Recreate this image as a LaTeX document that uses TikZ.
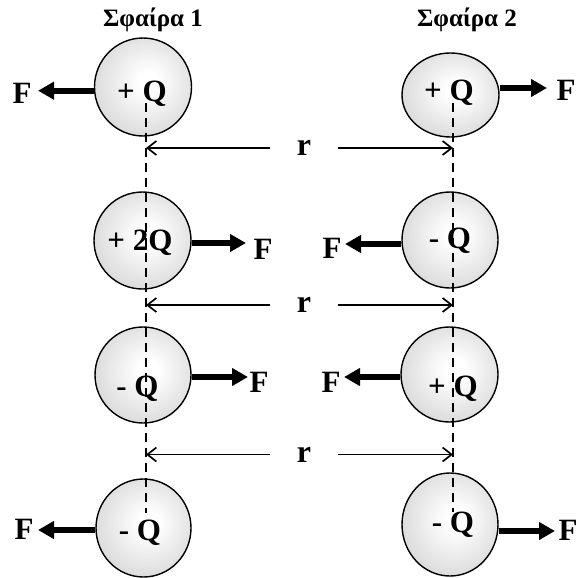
\documentclass[tikz,border=0pt]{standalone}
\usepackage{fontspec}
\setmainfont{Liberation Serif}
\usetikzlibrary{shapes.geometric,arrows.meta}
\definecolor{sphedge}{gray}{0.72}
\definecolor{sphmid}{gray}{0.87}
\pgfdeclareradialshading{sph}{\pgfpoint{3bp}{3bp}}{color(0bp)=(white); color(5bp)=(white); color(26bp)=(sphmid); color(46bp)=(sphedge); color(70bp)=(sphedge)}
\tikzset{
  sphere/.style={ellipse, draw, line width=1.4pt, shading=sph, inner sep=0pt},
  lbl/.style={anchor=base, inner sep=0pt, font=\fontsize{31}{33}\selectfont\bfseries},
  flbl/.style={anchor=base, inner sep=0pt, font=\fontsize{31}{33}\selectfont\bfseries},
  ttl/.style={anchor=base, inner sep=0pt, font=\fontsize{25}{28}\selectfont\bfseries},
  rlbl/.style={inner sep=0pt, minimum width=68pt, minimum height=14pt, font=\fontsize{32}{34}\selectfont\bfseries},
  force/.style={line width=5.8pt, -{Triangle[length=16pt,width=17pt]}},
  dim/.style={line width=1.7pt, -{Straight Barb[length=9pt,width=14pt,line width=1.7pt]}},
  dashline/.style={line width=2.1pt, dash pattern=on 9pt off 6pt}
}
\begin{document}
\begin{tikzpicture}[x=1pt,y=-1pt]
\useasboundingbox (0,0) rectangle (578,578);
% titles
\node[ttl] (t1) at (153,27) {Σφαίρα 1};
\node[ttl] (t2) at (467,27) {Σφαίρα 2};
% spheres
\node[sphere, minimum width=97pt, minimum height=98pt] (L1) at (143,87) {};
\node[sphere, minimum width=97pt, minimum height=97pt] (L2) at (142.5,240.5) {};
\node[sphere, minimum width=96pt, minimum height=96pt] (L3) at (143,375) {};
\node[sphere, minimum width=95pt, minimum height=98pt] (L4) at (143.5,528) {};
\node[sphere, minimum width=97pt, minimum height=84pt] (R1) at (450.5,95) {};
\node[sphere, minimum width=96pt, minimum height=96pt] (R2) at (450,240) {};
\node[sphere, minimum width=97pt, minimum height=95pt] (R3) at (449.5,374.5) {};
\node[sphere, minimum width=96pt, minimum height=103pt] (R4) at (450,524.5) {};
% dashed lines
\coordinate (lt) at (146,103);
\coordinate (lb) at (146,513);
\coordinate (rt) at (453,103);
\coordinate (rb) at (453,512);
\draw[dashline] (lt) -- (lb);
\draw[dashline] (rt) -- (rb);
% charge labels
\node[lbl] (qL1) at (142,101) {+ Q};
\node[lbl] (qL2) at (140,250) {+ 2Q};
\node[lbl] (qL3) at (137.5,396) {- Q};
\node[lbl] (qL4) at (140,540) {- Q};
\node[lbl] (qR1) at (449,100) {+ Q};
\node[lbl] (qR2) at (450,248) {- Q};
\node[lbl] (qR3) at (453,396) {+ Q};
\node[lbl] (qR4) at (453,532) {- Q};
% force labels
\node[flbl] (fL1) at (22,103) {F};
\node[flbl] (fL2) at (263,259) {F};
\node[flbl] (fL3) at (259,392.7) {F};
\node[flbl] (fL4) at (24,539) {F};
\node[flbl] (fR1) at (566,100) {F};
\node[flbl] (fR2) at (332,258) {F};
\node[flbl] (fR3) at (331,392.7) {F};
\node[flbl] (fR4) at (568,540) {F};
% force tips
\coordinate (aL1) at (38,90.7);
\coordinate (aL2) at (246,243);
\coordinate (aL3) at (248,377);
\coordinate (aL4) at (38,530);
\coordinate (aR1) at (547,88);
\coordinate (aR2) at (345,244);
\coordinate (aR3) at (344,377);
\coordinate (aR4) at (555,531);
\draw[force] (L1.west |- aL1) -- (aL1);
\draw[force] (L2.east |- aL2) -- (aL2);
\draw[force] (L3.east |- aL3) -- (aL3);
\draw[force] (L4.west |- aL4) -- (aL4);
\draw[force] (R1.east |- aR1) -- (aR1);
\draw[force] (R2.west |- aR2) -- (aR2);
\draw[force] (R3.west |- aR3) -- (aR3);
\draw[force] (R4.east |- aR4) -- (aR4);
% distance arrows
\node[rlbl] (r1) at (304,148) {r};
\node[rlbl] (r2) at (304,305) {r};
\node[rlbl] (r3) at (304,454.5) {r};
\draw[dim] (r1.west) -- (r1.west -| lt);
\draw[dim] (r1.east) -- (r1.east -| rt);
\draw[dim] (r2.west) -- (r2.west -| lt);
\draw[dim] (r2.east) -- (r2.east -| rt);
\draw[dim] (r3.west) -- (r3.west -| lt);
\draw[dim] (r3.east) -- (r3.east -| rt);
\end{tikzpicture}
\end{document}
